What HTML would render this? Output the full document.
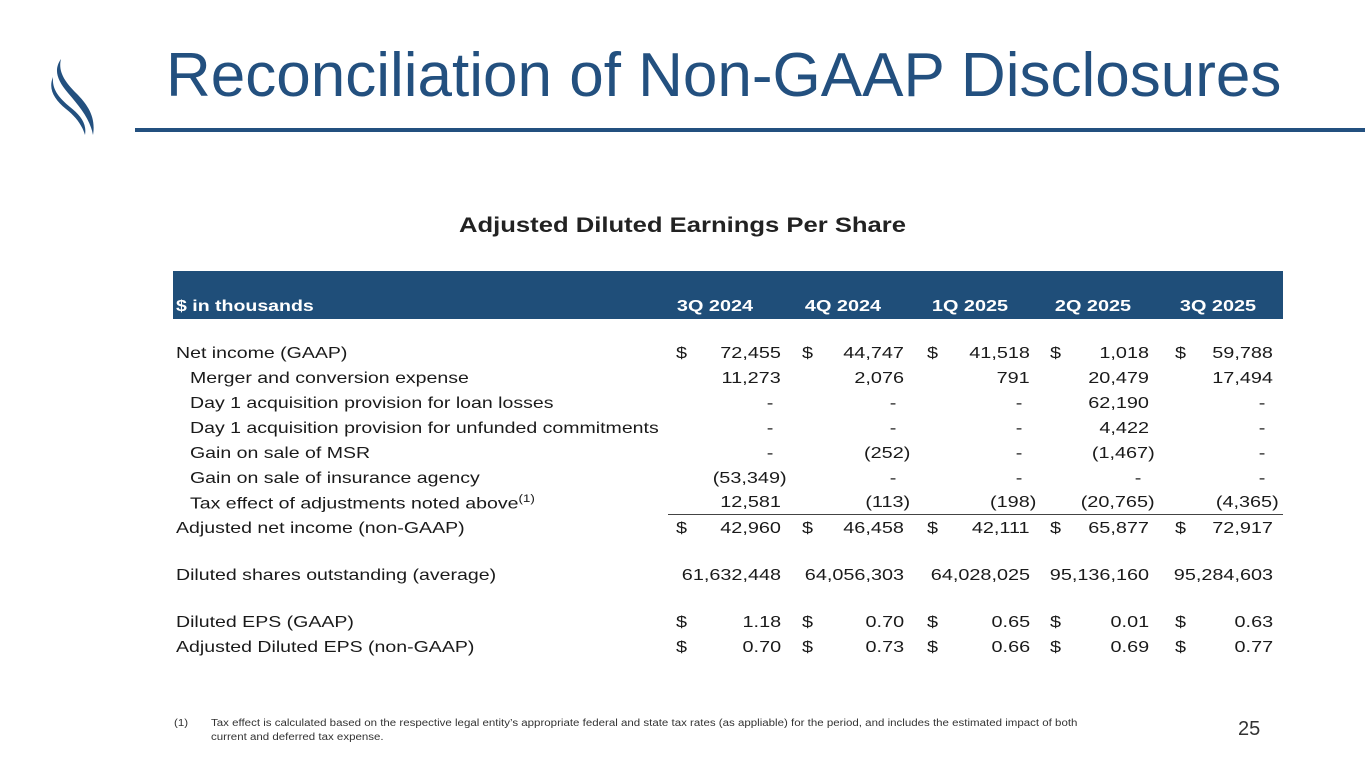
<!DOCTYPE html>
<html><head><meta charset="utf-8">
<style>
body{margin:0;width:1365px;height:768px;background:#fff;position:relative;overflow:hidden;font-family:"Liberation Sans",Arial,sans-serif;color:#1a1a1a}
.abs{position:absolute;white-space:nowrap}
#title{left:166px;top:45px;font-size:62px;color:#23507f;line-height:1}
#rule{left:135px;top:128px;width:1230px;height:4px;background:#23507f}
#sub{left:459px;top:214px;font-size:21px;font-weight:bold;color:#222;transform:scaleX(1.22);transform-origin:left}
#band{left:173px;top:271px;width:1110px;height:48px;background:#1f4e79}
.hd{color:#fff;font-weight:bold;font-size:16px;top:298px}
.cell{font-size:16px;line-height:20px}
.foot{font-size:10px;color:#333;line-height:14px;transform:scaleX(1.15);transform-origin:left}
#pg{left:1238px;top:718px;font-size:20px;color:#333}
</style></head><body>
<svg class="abs" style="left:44px;top:55px" width="60" height="85" viewBox="0 0 60 85">
<path d="M17 4 C10 14,12 24,24 38 C36 52,46 64,49 80 C52 62,44 50,32 38 C20 26,14 16,17 4Z" fill="#23507f"/>
<path d="M9 22 C4 34,10 44,22 54 C32 62,38 70,41 80 C43 68,36 60,26 52 C14 42,8 34,9 22Z" fill="#23507f"/>
</svg>
<div id="title" class="abs">Reconciliation of Non-GAAP Disclosures</div>
<div id="rule" class="abs"></div>
<div id="sub" class="abs">Adjusted Diluted Earnings Per Share</div>
<div id="band" class="abs"></div>
<div class="abs hd" style="left:176px;transform:scaleX(1.22);transform-origin:left">$ in thousands</div>
<div class="abs" style="left:668px;top:514px;width:615px;height:1px;background:#444"></div>
<div class="abs foot" style="left:174px;top:717px">(1)</div>
<div class="abs foot" style="left:211px;top:717px">Tax effect is calculated based on the respective legal entity’s appropriate federal and state tax rates (as appliable) for the period, and includes the estimated impact of both<br>current and deferred tax expense.</div>
<div id="pg" class="abs">25</div>
<script>
const periods=["3Q 2024","4Q 2024","1Q 2025","2Q 2025","3Q 2025"];
const labels=["Net income (GAAP)","Merger and conversion expense","Day 1 acquisition provision for loan losses","Day 1 acquisition provision for unfunded commitments","Gain on sale of MSR","Gain on sale of insurance agency","Tax effect of adjustments noted above","Adjusted net income (non-GAAP)","Diluted shares outstanding (average)","Diluted EPS (GAAP)","Adjusted Diluted EPS (non-GAAP)"];
const netIncome=["72,455","44,747","41,518","1,018","59,788"];
const merger=["11,273","2,076","791","20,479","17,494"];
const loanProv=["-","-","-","62,190","-"];
const unfunded=["-","-","-","4,422","-"];
const msr=["-","(252)","-","(1,467)","-"];
const insurance=["(53,349)","-","-","-","-"];
const taxEffect=["12,581","(113)","(198)","(20,765)","(4,365)"];
const adjNet=["42,960","46,458","42,111","65,877","72,917"];
const shares=["61,632,448","64,056,303","64,028,025","95,136,160","95,284,603"];
const epsGaap=["1.18","0.70","0.65","0.01","0.63"];
const epsAdj=["0.70","0.73","0.66","0.69","0.77"];
const rows=[netIncome,merger,loanProv,unfunded,msr,insurance,taxEffect,adjNet,shares,epsGaap,epsAdj];
const dollar=[true,false,false,false,false,false,false,true,false,true,true];
const indent=[false,true,true,true,true,true,true,false,false,false,false];
const rowY=[344,369,394,419,444,469,493,519,566,613,638];
const colRight=[781,904,1030,1149,1273];
const dollarX=[676,802,927,1050,1175];
const hdCenter=[715,843,970,1093,1218];
const SX=1.24;
const t=document.body;
periods.forEach((p,i)=>{const d=document.createElement('div');d.className='abs hd';d.style.left=(hdCenter[i]-50)+'px';d.style.width='100px';d.style.textAlign='center';d.style.transform='scaleX('+SX+')';d.textContent=p;


t.appendChild(d);});
rows.forEach((r,ri)=>{
 const l=document.createElement('div');l.className='abs cell';l.style.left=(indent[ri]?190:176)+'px';l.style.top=rowY[ri]+'px';
 l.style.transform='scaleX(1.22)';l.style.transformOrigin='left';
 l.innerHTML=labels[ri]+(ri==6?'<sup style="font-size:11px">(1)</sup>':'');
 if(ri==6)l.style.top=(rowY[ri]-4)+'px';
 
 
 t.appendChild(l);
 r.forEach((v,ci)=>{
  const c=document.createElement('div');c.className='abs cell';
  let right=colRight[ci];
  if(v==='-')right-=8;
  if(v.endsWith(')'))right+=6;
  c.style.right=(1365-right)+'px';c.style.top=rowY[ri]+'px';c.textContent=v;
  c.style.transform='scaleX('+SX+')';c.style.transformOrigin='right';
  
  
  t.appendChild(c);
  if(dollar[ri]){const s=document.createElement('div');s.className='abs cell';s.style.left=dollarX[ci]+'px';s.style.top=rowY[ri]+'px';s.textContent='$';
  s.style.transform='scaleX('+SX+')';s.style.transformOrigin='left';
  
  
  t.appendChild(s);}
 });
});
</script>
</body></html>
